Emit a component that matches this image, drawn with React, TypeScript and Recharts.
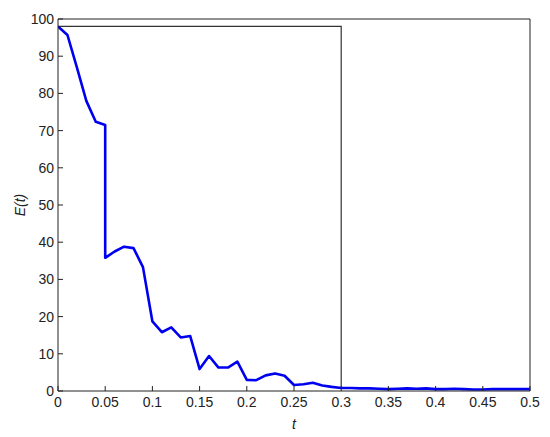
import { LineChart, Line, XAxis, YAxis } from 'recharts';

// sample times and error values
const times = [
  0, 0.01, 0.02, 0.03, 0.04, 0.05, 0.05, 0.06, 0.07, 0.08, 0.09, 0.1, 0.11, 0.12, 0.13, 0.14,
  0.15, 0.16, 0.17, 0.18, 0.19, 0.2, 0.21, 0.22, 0.23, 0.24, 0.25, 0.26, 0.27, 0.28, 0.29, 0.3,
  0.31, 0.32, 0.33, 0.34, 0.35, 0.36, 0.37, 0.38, 0.39, 0.4, 0.41, 0.42, 0.43, 0.44, 0.45, 0.46,
  0.47, 0.48, 0.49, 0.5,
];
const errors = [
  98, 95.7, 87, 78, 72.4, 71.5, 35.8, 37.5, 38.8, 38.4, 33.3, 18.7, 15.8, 17.1, 14.4, 14.8,
  5.9, 9.4, 6.3, 6.3, 7.9, 3.0, 2.9, 4.2, 4.7, 4.1, 1.6, 1.8, 2.2, 1.5, 1.1, 0.8,
  0.8, 0.7, 0.7, 0.6, 0.5, 0.6, 0.7, 0.6, 0.7, 0.5, 0.5, 0.6, 0.5, 0.4, 0.4, 0.5,
  0.5, 0.5, 0.5, 0.5,
];

// thin black outline drawn over the curve
const boxT = [0, 0.3, 0.3];
const boxE = [98, 98, 0.8];

const xTicks = [0, 0.05, 0.1, 0.15, 0.2, 0.25, 0.3, 0.35, 0.4, 0.45, 0.5];
const yTicks = [0, 10, 20, 30, 40, 50, 60, 70, 80, 90, 100];

const curve = times.map((t, i) => ({ t, e: errors[i] }));
const box = boxT.map((t, i) => ({ t, e: boxE[i] }));

const font = 'Liberation Sans, Arial, sans-serif';
const tickStyle = { fontSize: 14, fill: '#222', fontFamily: font };
const axisColor = '#222';

export default function App() {
  return (
    <div style={{ position: 'absolute', left: 0, top: 0, background: '#fff' }}>
      <LineChart
        width={550}
        height={437}
        data={curve}
        margin={{ top: 19, right: 20, left: 18, bottom: 16 }}
      >
        <XAxis
          xAxisId="b"
          type="number"
          dataKey="t"
          domain={[0, 0.5]}
          ticks={xTicks}
          tick={tickStyle}
          tickSize={-5}
          tickMargin={11}
          height={30}
          stroke={axisColor}
          allowDataOverflow
          label={{
            value: 't',
            position: 'bottom',
            offset: -2,
            style: { fontStyle: 'italic', fontSize: 14, fill: '#222', fontFamily: font },
          }}
        />
        <XAxis
          xAxisId="top"
          orientation="top"
          type="number"
          dataKey="t"
          domain={[0, 0.5]}
          ticks={xTicks}
          tick={false}
          mirror
          tickSize={5}
          height={1}
          stroke={axisColor}
        />
        <YAxis
          yAxisId="l"
          type="number"
          domain={[0, 100]}
          ticks={yTicks}
          tick={tickStyle}
          tickSize={-5}
          tickMargin={9}
          width={40}
          stroke={axisColor}
          allowDataOverflow
          label={{
            value: 'E(t)',
            angle: -90,
            position: 'left',
            offset: -2,
            style: { fontStyle: 'italic', fontSize: 14, fill: '#222', fontFamily: font, textAnchor: 'middle' },
          }}
        />
        <YAxis
          yAxisId="r"
          orientation="right"
          type="number"
          domain={[0, 100]}
          ticks={yTicks}
          tick={false}
          mirror
          tickSize={5}
          width={1}
          stroke={axisColor}
        />
        <Line
          xAxisId="b"
          yAxisId="l"
          data={box}
          dataKey="e"
          stroke="#333"
          strokeWidth={1.2}
          dot={false}
          isAnimationActive={false}
        />
        <Line
          xAxisId="b"
          yAxisId="l"
          dataKey="e"
          stroke="#0000f0"
          strokeWidth={2.6}
          strokeLinejoin="round"
          dot={false}
          isAnimationActive={false}
        />
      </LineChart>
    </div>
  );
}
